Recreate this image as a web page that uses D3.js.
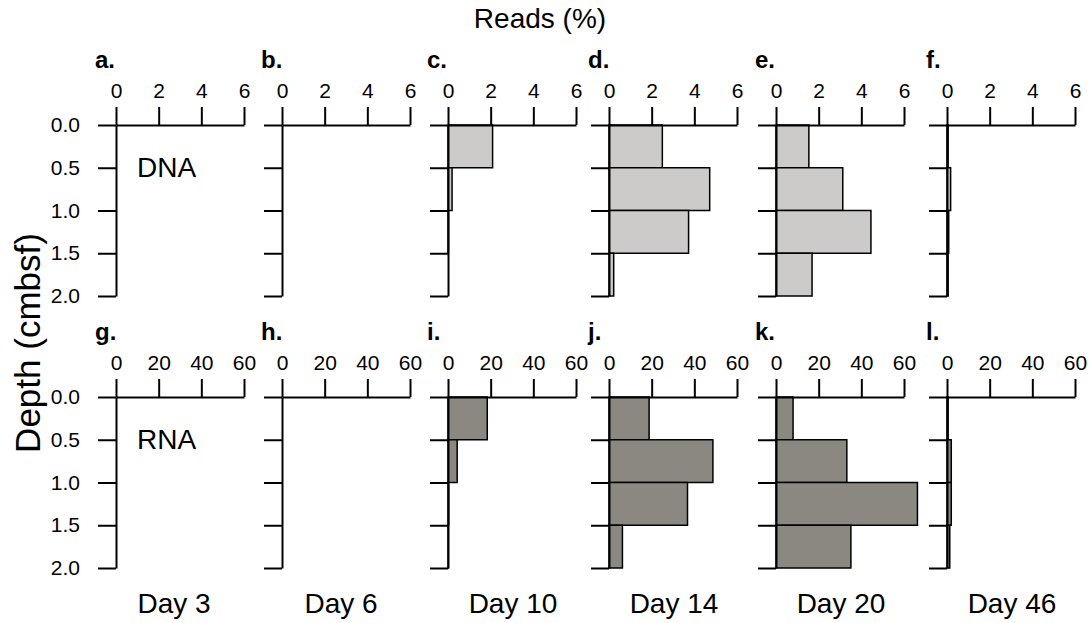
<!DOCTYPE html>
<html lang="en">
<meta charset="utf-8">
<style type="text/css">
  body { margin: 0; background: #fff; }
  svg { display: block; }
  text { font-family: "Liberation Sans", Arial, Helvetica, sans-serif; fill: #000; }
  .axis path, .axis line { stroke: #000; stroke-width: 2px; }
  .bar { stroke: #000; stroke-width: 1.5px; }
</style>
<body>
<script src="https://d3js.org/d3.v7.min.js"></script>
<script>
// data
var days = ["Day 3", "Day 6", "Day 10", "Day 14", "Day 20", "Day 46"];
var dnaLetters = ["a.", "b.", "c.", "d.", "e.", "f."];
var rnaLetters = ["g.", "h.", "i.", "j.", "k.", "l."];
var depthTop = [0, 0.5, 1.0, 1.5];     // top of each 0.5 cm layer
var depthTicks = [0, 0.5, 1.0, 1.5, 2.0];
var dnaTicks = [0, 2, 4, 6];
var rnaTicks = [0, 20, 40, 60];
// reads (%) per layer, one list per day
var dnaReads = [
  [0, 0, 0, 0],
  [0, 0, 0, 0],
  [2.09, 0.19, 0.02, 0],
  [2.5, 4.72, 3.73, 0.22],
  [1.54, 3.13, 4.45, 1.69],
  [0.05, 0.17, 0.08, 0.05]
];
var rnaReads = [
  [0, 0, 0, 0],
  [0, 0, 0, 0],
  [18.4, 4.3, 0.3, 0.1],
  [18.8, 48.7, 36.8, 6.3],
  [8.0, 33.2, 66.3, 35.1],
  [0.5, 2.0, 2.0, 1.3]
];

// layout
var width = 1091, height = 623;
var panelX = [116, 282, 448, 609, 776, 947];
var dayX = [174, 341, 513, 674, 841, 1012];
var rowY = [125, 397];
var panelW = 128, panelH = 171;

var svg = d3.select("body").append("svg")
    .attr("width", width)
    .attr("height", height);

var y = d3.scaleLinear().domain([0, 2]).range([0, panelH]);
var xDna = d3.scaleLinear().domain([0, 6]).range([0, panelW]);
var xRna = d3.scaleLinear().domain([0, 60]).range([0, panelW]);

var rows = [
  {reads: dnaReads, x: xDna, ticks: dnaTicks, letters: dnaLetters, fill: "#cdcaca", label: "DNA"},
  {reads: rnaReads, x: xRna, ticks: rnaTicks, letters: rnaLetters, fill: "#8b8881", label: "RNA"}
];

rows.forEach(function (row, r) {
  days.forEach(function (day, i) {
    var g = svg.append("g")
        .attr("transform", "translate(" + panelX[i] + "," + rowY[r] + ")");

    g.selectAll(".bar")
        .data(row.reads[i])
        .enter().append("rect")
        .attr("class", "bar")
        .attr("x", 0)
        .attr("y", function (d, k) { return y(depthTop[k]); })
        .attr("width", function (d) { return row.x(d); })
        .attr("height", function (d, k) { return y(depthTop[k] + 0.5) - y(depthTop[k]); })
        .attr("fill", row.fill)
        .style("display", function (d) { return d > 0 ? null : "none"; });

    var xa = g.append("g")
        .attr("class", "axis")
        .call(d3.axisTop(row.x).tickValues(row.ticks).tickFormat(d3.format("d"))
          .tickSize(18).tickSizeOuter(0).tickPadding(9));
    xa.selectAll("text").style("font-size", "21px");

    var ya = g.append("g")
        .attr("class", "axis")
        .call(d3.axisLeft(y).tickValues(depthTicks).tickSize(18).tickSizeOuter(0).tickPadding(18)
          .tickFormat(i === 0 ? d3.format(".1f") : function () { return ""; }));
    ya.selectAll("text").style("font-size", "21px");
    g.selectAll(".axis").attr("font-family", null).attr("font-size", null);

    g.append("text")
        .attr("x", -21)
        .attr("y", -57)
        .style("font-size", "24px")
        .style("font-weight", "bold")
        .text(row.letters[i]);

    if (i === 0) {
      g.append("text")
          .attr("x", 21)
          .attr("y", y(0.5) + 9)
          .style("font-size", "28px")
          .text(row.label);
    }
  });
});

svg.selectAll(".day")
    .data(days)
    .enter().append("text")
    .attr("class", "day")
    .attr("x", function (d, i) { return dayX[i]; })
    .attr("y", 613)
    .attr("text-anchor", "middle")
    .style("font-size", "28px")
    .text(function (d) { return d; });

svg.append("text")
    .attr("x", 540)
    .attr("y", 28)
    .attr("text-anchor", "middle")
    .style("font-size", "28px")
    .text("Reads (%)");

svg.append("text")
    .attr("transform", "translate(40,343) rotate(-90)")
    .attr("text-anchor", "middle")
    .style("font-size", "35px")
    .text("Depth (cmbsf)");
</script>
</body>
</html>
